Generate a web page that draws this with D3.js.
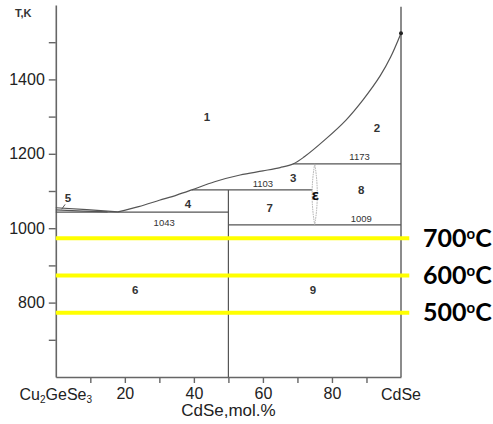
<!DOCTYPE html>
<html>
<head>
<meta charset="utf-8">
<script src="https://cdn.jsdelivr.net/npm/d3@7/dist/d3.min.js"></script>
<style>
  html, body { margin: 0; padding: 0; background: #fff; }
  svg { display: block; }
</style>
</head>
<body>
<svg id="chart" width="493" height="424"></svg>
<script>
// Composition axis (mol.% CdSe) and temperature axis (K)
const xTickValues = [10, 20, 30, 40, 50, 60, 70, 80, 90];
const xTickLabels = [20, 40, 60, 80];
const yTickValues = [700, 800, 900, 1000, 1100, 1200, 1300, 1400, 1500];
const yTickLabels = [800, 1000, 1200, 1400];

// Liquidus: short branch from Cu2GeSe3 to the eutectic, then up to CdSe melting point
const liquidusLeft = [[0, 1055], [9, 1050], [18, 1044]];
const solidusLeft = [[0, 1049], [8, 1046], [15, 1044]];
const liquidusMain = [
  [18, 1044], [24, 1058], [30, 1075], [35, 1089], [39.4, 1103], [46, 1125],
  [53.4, 1143], [60, 1154], [65, 1163], [68.8, 1173], [72, 1192], [78, 1238],
  [84, 1290], [89, 1345], [94, 1410], [97, 1460], [100, 1524]
];
const meltingPoint = [100, 1524];

// Invariant horizontals: [temperature, from, to]
const isotherms = [
  [1043, 0, 50],
  [1103, 39.4, 74.3],
  [1173, 68.8, 100],
  [1009, 50, 100]
];
// Vertical line of the intermediate compound at 50 mol.%
const compoundLine = [50, 600, 1103];
// Epsilon phase lens: composition, bottom, top, half-width
const epsilonLens = [75, 1009, 1173, 0.75];

// Isotherm value labels: [text, x, T]
const isothermLabels = [
  ["1043", 31.4, 1005],
  ["1103", 60, 1112],
  ["1173", 88, 1182],
  ["1009", 88.5, 1018]
];
// Phase field numbers: [text, x, T]
const fieldLabels = [
  ["1", 43.8, 1289], ["2", 93, 1258], ["3", 68.8, 1124], ["4", 38.3, 1054],
  ["5", 3.5, 1070], ["6", 23, 823], ["7", 62, 1043], ["8", 88.5, 1092],
  ["9", 74.5, 823]
];
const leader5 = [[1.7, 1051], [2.7, 1064]];

// Annealing temperatures (K) and their Celsius labels
const annealK = [973, 873, 773];
const annealC = ["700", "600", "500"];

const svg = d3.select("#chart");
const x = d3.scaleLinear().domain([0, 100]).range([55.8, 401]);
const y = d3.scaleLinear().domain([600, 1600]).range([377, 5]);

const axisColor = "#666";
const lineColor = "#555";
const font = "'Liberation Sans', Arial, sans-serif";

// Left axis
const gy = svg.append("g").attr("transform", `translate(${x(0)},0)`)
  .call(d3.axisLeft(y).tickValues(yTickValues).tickSize(7).tickSizeOuter(0).tickPadding(4)
    .tickFormat(d => yTickLabels.includes(d) ? d : ""));
// Bottom axis
const gx = svg.append("g").attr("transform", `translate(0,${y(600)})`)
  .call(d3.axisBottom(x).tickValues(xTickValues).tickSize(6).tickSizeOuter(0).tickPadding(5)
    .tickFormat(d => xTickLabels.includes(d) ? d : ""));
[gx, gy].forEach(g => {
  g.select(".domain").attr("stroke", axisColor).attr("stroke-width", 1.6);
  g.selectAll(".tick line").attr("stroke", axisColor).attr("stroke-width", 1.4);
  g.selectAll(".tick text").attr("fill", "#222").style("font-family", font).style("font-size", "16px");
});

// Right border at pure CdSe
svg.append("line")
  .attr("x1", x(100)).attr("x2", x(100)).attr("y1", y(1595)).attr("y2", y(600))
  .attr("stroke", axisColor).attr("stroke-width", 1.5);

// End-member labels
const endLabels = svg.append("g").style("font-family", font).style("font-size", "16px").attr("fill", "#222");
const cu = endLabels.append("text").attr("x", x(0)).attr("y", 400).attr("text-anchor", "middle");
cu.append("tspan").text("Cu");
cu.append("tspan").text("2").style("font-size", "10px").attr("dy", 3);
cu.append("tspan").text("GeSe").attr("dy", -3);
cu.append("tspan").text("3").style("font-size", "10px").attr("dy", 3);
endLabels.append("text").attr("x", x(100)).attr("y", 400).attr("text-anchor", "middle").text("CdSe");

// Axis titles
svg.append("text").attr("x", x(50)).attr("y", 416).attr("text-anchor", "middle")
  .style("font-family", font).style("font-size", "17px").attr("fill", "#222").text("CdSe,mol.%");
svg.append("text").attr("x", 15).attr("y", 17)
  .style("font-family", font).style("font-size", "11px").style("font-weight", "bold")
  .attr("fill", "#333").text("T,K");

// Phase boundaries
const line = d3.line().x(d => x(d[0])).y(d => y(d[1]));
const smooth = d3.line().x(d => x(d[0])).y(d => y(d[1])).curve(d3.curveMonotoneX);
const spline = d3.line().x(d => x(d[0])).y(d => y(d[1])).curve(d3.curveCatmullRom.alpha(0.5));
const lines = svg.append("g").attr("fill", "none").attr("stroke", lineColor).attr("stroke-width", 1.2);
lines.append("path").attr("d", smooth(liquidusLeft));
lines.append("path").attr("d", smooth(solidusLeft));
lines.append("path").attr("d", spline(liquidusMain));
lines.append("path").attr("d", line(leader5)).attr("stroke-width", 1);
isotherms.forEach(([t, a, b]) => {
  lines.append("line").attr("x1", x(a)).attr("x2", x(b)).attr("y1", y(t)).attr("y2", y(t));
});
lines.append("line")
  .attr("x1", x(compoundLine[0])).attr("x2", x(compoundLine[0]))
  .attr("y1", y(compoundLine[1])).attr("y2", y(compoundLine[2]));

// Epsilon lens drawn as two dotted arcs
const [ec, eb, et, ew] = epsilonLens;
const lens = d3.path();
lens.moveTo(x(ec), y(et));
lens.quadraticCurveTo(x(ec - 2 * ew), y((eb + et) / 2), x(ec), y(eb));
lens.quadraticCurveTo(x(ec + 2 * ew), y((eb + et) / 2), x(ec), y(et));
svg.append("path").attr("d", lens.toString()).attr("fill", "none")
  .attr("stroke", "#aaa").attr("stroke-width", 1).attr("stroke-dasharray", "1.5,1");

svg.append("circle").attr("cx", x(meltingPoint[0])).attr("cy", y(meltingPoint[1]))
  .attr("r", 2).attr("fill", "#222");

// Labels inside the diagram
svg.append("g").selectAll("text").data(isothermLabels).join("text")
  .attr("x", d => x(d[1])).attr("y", d => y(d[2])).attr("text-anchor", "middle")
  .style("font-family", font).style("font-size", "9.5px").attr("fill", "#333").text(d => d[0]);
svg.append("g").selectAll("text").data(fieldLabels).join("text")
  .attr("x", d => x(d[1])).attr("y", d => y(d[2])).attr("text-anchor", "middle")
  .style("font-family", font).style("font-size", "11.5px").style("font-weight", "bold")
  .attr("fill", "#333").text(d => d[0]);
svg.append("text").attr("x", x(75.2)).attr("y", y(1103) + 10).attr("text-anchor", "middle")
  .style("font-family", "'DejaVu Sans', sans-serif").style("font-size", "14px").style("font-weight", "bold")
  .attr("fill", "#111").text("ε");

// Annealing temperature lines
svg.append("g").selectAll("line").data(annealK).join("line")
  .attr("x1", x(0)).attr("x2", x(102.4)).attr("y1", d => y(d)).attr("y2", d => y(d))
  .attr("stroke", "#ffff00").attr("stroke-width", 4);
const ann = svg.append("g").selectAll("text").data(annealK).join("text")
  .attr("x", 423).attr("y", d => y(d) + 8.8)
  .style("font-family", "Lato, 'Open Sans', sans-serif").style("font-size", "25px").style("font-weight", "bold")
  .attr("fill", "#000");
ann.append("tspan").text((d, i) => annealC[i]);
ann.append("tspan").text("o").style("font-size", "15px").attr("dy", -8);
ann.append("tspan").text("C").attr("dy", 8);
</script>
</body>
</html>
